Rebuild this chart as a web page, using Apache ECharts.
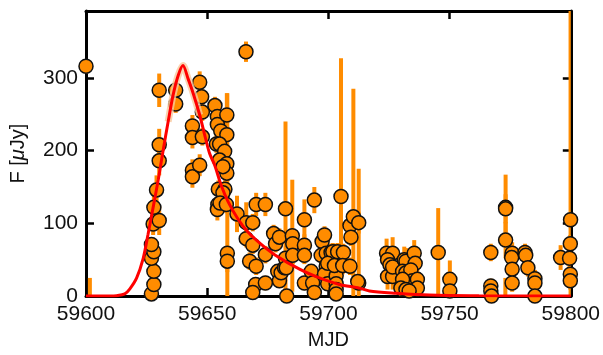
<!DOCTYPE html>
<html>
<head>
<meta charset="utf-8">
<script src="https://cdn.jsdelivr.net/npm/echarts@6/dist/echarts.min.js"></script>
<style>
  html, body { margin: 0; padding: 0; background: #fff; }
  #chart { width: 603px; height: 355px; }
</style>
</head>
<body>
<div id="chart"></div>
<script>
// photometry: MJD (offset from 59600), flux [uJy], 1-sigma error
const mjdOffset = [
  0.0, 1.6,
  27.0, 28.0, 28.0, 27.0, 28.0, 27.0, 27.7, 30.2, 28.0, 29.1, 30.2, 30.2, 30.2,
  37.0, 37.0, 43.9, 43.9, 43.9, 43.9, 46.9, 46.9, 47.7, 48.0, 48.0,
  53.2, 54.2, 54.2, 55.6, 58.1, 58.1, 53.8, 55.1, 57.2, 55.1, 58.1, 58.1, 56.5,
  54.6, 57.3, 56.5, 54.4, 54.2, 55.3, 57.9, 58.3, 58.3, 62.3, 66.0, 66.1, 66.1,
  68.8, 68.8, 70.2, 74.0, 67.5, 70.2, 70.0, 68.8, 74.0, 74.0,
  77.4, 78.2, 79.8, 79.1, 79.8, 80.5, 81.9, 82.3, 82.3, 82.6, 82.8, 85.1, 85.3, 85.3,
  90.1, 90.1, 90.1, 90.1, 94.2, 97.4, 98.4, 97.0, 99.1, 99.1, 101.1, 92.9, 93.5, 94.2,
  105.2, 98.4, 99.7, 103.2, 103.2, 101.1, 102.5, 101.8, 103.8, 106.2, 99.7, 102.5,
  105.9, 108.9, 103.2, 103.2, 108.9, 110.3, 112.5, 112.5, 109.3, 112.1,
  124.0, 126.5, 124.4, 125.4, 124.4, 126.5, 126.5,
  131.3, 132.0, 135.4, 135.8, 130.6, 132.0, 134.0, 134.7, 136.7, 130.6, 129.9, 132.0, 136.7, 133.3,
  145.3, 150.1, 150.1, 167.0, 167.0, 167.0, 167.3, 173.1, 173.1, 173.1, 173.0,
  175.8, 175.6, 175.8, 175.8, 181.1, 181.4, 182.3, 185.2, 185.2, 185.2,
  195.8, 199.9, 199.8, 199.5, 199.8, 199.8
]
const flux = [
  316, -10,
  3, 16, 34, 52, 61, 71, 99, 104, 122, 146, 186, 208, 283,
  283, 264, 234, 218, 173, 164, 180, 294, 274, 253, 219,
  262, 247, 236, 227, 249, 222, 209, 209, 199, 187, 182, 169, 178,
  147, 147, 142, 126, 119, 128, 126, 59, 48, 113, 336, 101, 79,
  70, 101, 126, 126, 48, 41, 16, 5, 18, 57,
  86, 72, 81, 34, 21, 32, 39, 120, 52, 39, 0, 83, 72, 56,
  105, 70, 56, 18, 132, 75, 84, 56, 59, 41, 21, 34, 18, 5,
  137, 30, 17, 28, 17, 60, 60, 61, 61, 60, 45, 42,
  42, 41, 9, 3, 97, 109, 101, 18, 81, 20,
  59, 59, 50, 43, 27, 27, 40,
  50, 48, 59, 45, 34, 32, 36, 21, 23, 23, 11, 9, 11, 7,
  60, 23, 7, 60, 14, 7, 0, 122, 120, 77, -5,
  59, 53, 37, 18, 60, 56, 39, 24, 18, 0,
  53, 105, 72, 52, 30, 21
]
const fluxErr = [
  10, 35,
  6, 6, 6, 8, 8, 8, 15, 20, 18, 20, 20, 22, 23,
  12, 12, 15, 15, 15, 15, 15, 15, 12, 12, 12,
  12, 12, 12, 12, 30, 12, 12, 12, 12, 12, 12, 12, 12,
  12, 12, 12, 15, 15, 12, 12, 220, 15, 25, 14, 28, 12,
  12, 12, 16, 16, 12, 12, 10, 10, 10, 12,
  12, 12, 12, 10, 10, 10, 10, 120, 10, 10, 10, 77, 12, 12,
  28, 15, 12, 10, 18, 12, 12, 12, 12, 12, 10, 10, 10, 10,
  190, 10, 10, 10, 10, 12, 12, 12, 12, 12, 12, 12,
  12, 12, 10, 10, 15, 176, 15, 157, 12, 10,
  20, 22, 18, 18, 18, 18, 18,
  18, 18, 18, 18, 18, 18, 18, 18, 18, 18, 15, 15, 15, 15,
  61, 26, 10, 12, 10, 10, 8, 45, 20, 25, 30,
  15, 15, 12, 12, 12, 12, 12, 12, 12, 10,
  17, 300, 12, 12, 12, 12
]

// model light curve
const modelMjd = [
  59600, 59609.9, 59612.6, 59616, 59618.1, 59620.9, 59623.6, 59625.6, 59627.7,
  59629.8, 59631.8, 59633.9, 59635.9, 59638.0, 59640.0, 59642.1, 59644.2, 59646.9,
  59649.0, 59651.0, 59653.1, 59655.8, 59658.6, 59662.7, 59666.8, 59672.3, 59677.8,
  59688.1, 59696.3, 59704.5, 59712.8, 59716.9, 59727.9, 59741.6, 59762.1, 59800
]
const modelFlux = [
  0, 0, 0.5, 3, 10, 25, 52, 85, 122,
  160, 200, 240, 276, 303, 317, 299, 279, 249,
  221, 196, 180, 152, 130, 106, 88, 71, 57,
  37, 25, 16, 11, 7, 4, 1.5, 0.5, 0
]

const xTicks = [59600, 59650, 59700, 59750, 59800]
const yTicks = [0, 100, 200, 300]

const points = mjdOffset.map((d, i) => [59600 + d, flux[i], fluxErr[i]])
const model = modelMjd.map((m, i) => [m, modelFlux[i]])
const modelPeak = model.filter(p => p[0] > 59633 && p[0] < 59648)

const ORANGE = '#ff8c00'
const FONT = 'Liberation Sans'
const INK = '#111'

const chart = echarts.init(document.getElementById('chart'), null, { renderer: 'canvas' })

// draw the vertical error bar as a clipped rectangle
function renderErr(params, api) {
  const x = api.value(0)
  const f = api.value(1)
  const e = api.value(2)
  const top = api.coord([x, f + e])
  const bot = api.coord([x, f - e])
  const cs = params.coordSys
  const shape = echarts.graphic.clipRectByRect(
    { x: top[0] - 2, y: top[1], width: 4, height: bot[1] - top[1] },
    { x: cs.x, y: cs.y, width: cs.width, height: cs.height }
  )
  if (!shape) return
  return { type: 'rect', shape: shape, style: { fill: ORANGE } }
}

const axisCommon = {
  type: 'value',
  axisLine: { show: true, onZero: false, lineStyle: { color: '#000', width: 3 } },
  axisTick: { show: true, inside: true, length: 8, lineStyle: { color: '#000', width: 2.5 } },
  splitLine: { show: false }
}

const option = {
  animation: false,
  backgroundColor: '#fff',
  grid: { left: 86, right: 31, top: 11, bottom: 53 },
  xAxis: [
    {
      ...axisCommon,
      position: 'bottom',
      min: 59600, max: 59800, interval: 50,
      name: 'MJD',
      nameLocation: 'middle',
      nameGap: 30,
      nameTextStyle: { color: INK, fontSize: 20, fontFamily: FONT },
      axisLabel: { color: INK, fontSize: 21, fontFamily: FONT, margin: 8,
        formatter: v => xTicks.includes(v) ? String(v) : '' }
    },
    {
      ...axisCommon,
      position: 'top',
      min: 59600, max: 59800, interval: 50,
      axisLabel: { show: false }
    }
  ],
  yAxis: [
    {
      ...axisCommon,
      position: 'left',
      min: 0, max: 392, interval: 100,
      name: 'F [{i|μ}Jy]',
      nameLocation: 'middle',
      nameGap: 58,
      nameTextStyle: {
        color: INK, fontSize: 20, fontFamily: FONT,
        rich: { i: { fontStyle: 'italic', fontSize: 20, fontFamily: FONT, color: INK } }
      },
      axisLabel: { color: INK, fontSize: 21, fontFamily: FONT, margin: 8, showMaxLabel: false,
        formatter: v => yTicks.includes(v) ? String(v) : '' }
    },
    {
      ...axisCommon,
      position: 'right',
      min: 0, max: 392, interval: 100,
      axisLabel: { show: false }
    }
  ],
  series: [
    {
      type: 'custom',
      name: 'err',
      renderItem: renderErr,
      encode: { x: 0, y: 1 },
      data: points,
      z: 2,
      silent: true
    },
    {
      type: 'scatter',
      name: 'flux',
      data: points.map(p => [p[0], p[1]]),
      symbol: 'circle',
      symbolSize: 14,
      itemStyle: { color: ORANGE, borderColor: '#111', borderWidth: 1.5, opacity: 1 },
      z: 3
    },
    {
      type: 'line',
      name: 'band',
      data: modelPeak,
      showSymbol: false,
      smooth: 0.3,
      lineStyle: { color: '#f9c89c', width: 7, opacity: 0.8 },
      z: 4
    },
    {
      type: 'line',
      name: 'model',
      data: model,
      showSymbol: false,
      smooth: 0.3,
      clip: true,
      lineStyle: { color: '#ff0000', width: 3 },
      z: 5
    }
  ]
}

chart.setOption(option)
</script>
</body>
</html>
